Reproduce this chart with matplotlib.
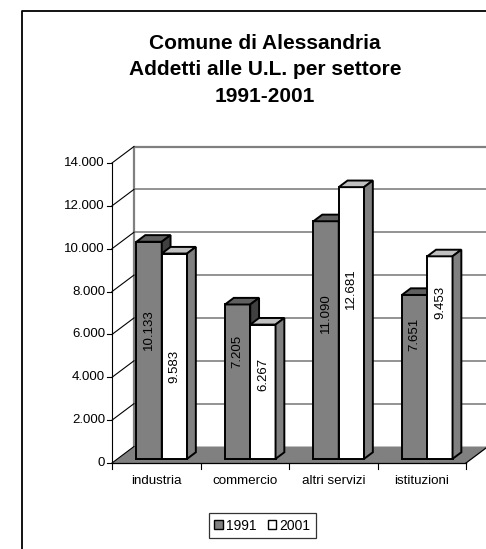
import matplotlib
matplotlib.use("Agg")
import matplotlib.pyplot as plt
from matplotlib.patches import Polygon, Patch
from matplotlib.lines import Line2D

#chart data
categories = ["industria", "commercio", "altri servizi", "istituzioni"]
years = ["1991", "2001"]
addetti_1991 = [10133, 7205, 11090, 7651]
addetti_2001 = [9583, 6267, 12681, 9453]
y_ticks = [0, 2000, 4000, 6000, 8000, 10000, 12000, 14000]

#where the value label sits inside each bar (share of the bar height)
label_frac_1991 = [0.613, 0.725, 0.631, 0.787]
label_frac_2001 = [0.472, 0.663, 0.640, 0.795]

#layout (pixels of the 486x549 picture)
FIG_W, FIG_H = 486, 549
X0_PX, CAT_PX = 112, 88.5          # front axis origin, width of a category
Y0_PX, YTOP_PX = 463, 163          # front y of 0 and of 14.000
Y_MAX = 14000
PX_PER_UNIT = (Y0_PX - YTOP_PX) / Y_MAX

DX = 22 / CAT_PX                   # full depth of the plot box
DY = 16.5 / PX_PER_UNIT
BAR_W = 1 / 3.5                    # gap width 150%
BAR_F = 0.25                       # depth where the bar front sits
BAR_D = 0.40                       # depth of a bar
EDGE_LW = 1.4

FONT = "Liberation Sans"
plt.rcParams["font.family"] = [FONT, "DejaVu Sans"]

COLORS = {
    "1991": ("#808080", "#606060", "#404040"),   # front, top, side
    "2001": ("#ffffff", "#c0c0c0", "#808080"),
}


def fmt(v):
    return f"{v:,}".replace(",", ".")


def draw_bar(ax, x, value, colors):
    front, top, side = colors
    bx, by = BAR_F * DX, BAR_F * DY
    ddx, ddy = BAR_D * DX, BAR_D * DY
    ax.bar(x + bx, value, BAR_W, bottom=by, align="edge", color=front,
           edgecolor="black", linewidth=EDGE_LW, zorder=5)
    yt = by + value
    ax.add_patch(Polygon([(x + bx, yt), (x + bx + BAR_W, yt),
                          (x + bx + BAR_W + ddx, yt + ddy), (x + bx + ddx, yt + ddy)],
                         closed=True, facecolor=top, edgecolor="black", linewidth=EDGE_LW,
                         joinstyle="miter", zorder=5))
    xr = x + bx + BAR_W
    ax.add_patch(Polygon([(xr, by), (xr + ddx, by + ddy),
                          (xr + ddx, yt + ddy), (xr, yt)],
                         closed=True, facecolor=side, edgecolor="black", linewidth=EDGE_LW,
                         joinstyle="miter", zorder=5))


fig = plt.figure(figsize=(FIG_W / 100, FIG_H / 100), dpi=100)
ax = fig.add_axes([0, 0, 1, 1])
ax.set_xlim(-X0_PX / CAT_PX, (FIG_W - X0_PX) / CAT_PX)
ax.set_ylim((Y0_PX - FIG_H) / PX_PER_UNIT, Y0_PX / PX_PER_UNIT)
ax.axis("off")

n = len(categories)

#floor
ax.add_patch(Polygon([(0, 0), (n, 0), (n + DX, DY), (DX, DY)], closed=True,
                     facecolor="#808080", edgecolor="none", zorder=1))
ax.plot([n, n + DX], [0, DY], color="black", linewidth=0.9, zorder=2)

#back wall gridlines and border
for v in y_ticks[1:-1]:
    ax.plot([DX, n + DX], [v + DY, v + DY], color="#808080", linewidth=1.2, zorder=1)
ax.plot([DX, DX, n + DX], [DY, Y_MAX + DY, Y_MAX + DY], color="#808080", linewidth=1.6, zorder=2)

#side wall lines, front axis and ticks
tick_len = 5 / CAT_PX
for v in y_ticks:
    ax.plot([0, DX], [v, v + DY], color="black", linewidth=0.8, zorder=2)
    ax.plot([-tick_len, 0], [v, v], color="black", linewidth=0.8, zorder=2)
    ax.text(-7 / CAT_PX, v, fmt(v), ha="right", va="center", fontsize=9.5)
ax.plot([0, 0], [0, Y_MAX], color="black", linewidth=0.8, zorder=2)
ax.plot([0, n], [0, 0], color="black", linewidth=0.9, zorder=2)
for i in range(n + 1):
    ax.plot([i, i], [0, -6 / PX_PER_UNIT], color="black", linewidth=0.8, zorder=2)
for i, cat in enumerate(categories):
    ax.text(i + 0.5, -18 / PX_PER_UNIT, cat, ha="center", va="center", fontsize=9.6)

#bars and value labels
for i in range(n):
    series = [(addetti_1991[i], label_frac_1991[i], "1991"),
              (addetti_2001[i], label_frac_2001[i], "2001")]
    for j, (value, frac, year) in enumerate(series):
        x = i + 0.75 * BAR_W + j * BAR_W
        draw_bar(ax, x, value, COLORS[year])
        ax.text(x + BAR_F * DX + BAR_W / 2, value * frac, fmt(value), rotation=90,
                ha="center", va="center", fontsize=9.5, zorder=6)

#title
title_lines = ["Comune di Alessandria", "Addetti alle U.L. per settore", "1991-2001"]
for k, line in enumerate(title_lines):
    fig.text(265 / FIG_W, 1 - (48.5 + 26.7 * k) / FIG_H, line, ha="center", va="baseline",
             fontsize=15, fontweight="bold")

#outer frame (left and top only are in view)
fig.add_artist(Line2D([22 / FIG_W, 22 / FIG_W, 1], [0, 1 - 11 / FIG_H, 1 - 11 / FIG_H],
                      color="black", linewidth=1.3))

#legend
handles = [Patch(facecolor=COLORS[y][0], edgecolor="black", linewidth=1.0, label=y) for y in years]
leg = ax.legend(handles=handles, loc="center", ncol=2, bbox_to_anchor=(262.5 / FIG_W, 1 - 525.5 / FIG_H),
                bbox_transform=fig.transFigure, fontsize=10, frameon=True, fancybox=False,
                handlelength=0.6, handleheight=0.6, handletextpad=0.25, columnspacing=0.8,
                borderpad=0.4, borderaxespad=0)
leg.get_frame().set_edgecolor("black")
leg.get_frame().set_linewidth(0.9)

fig.savefig("out.png", dpi=100)
